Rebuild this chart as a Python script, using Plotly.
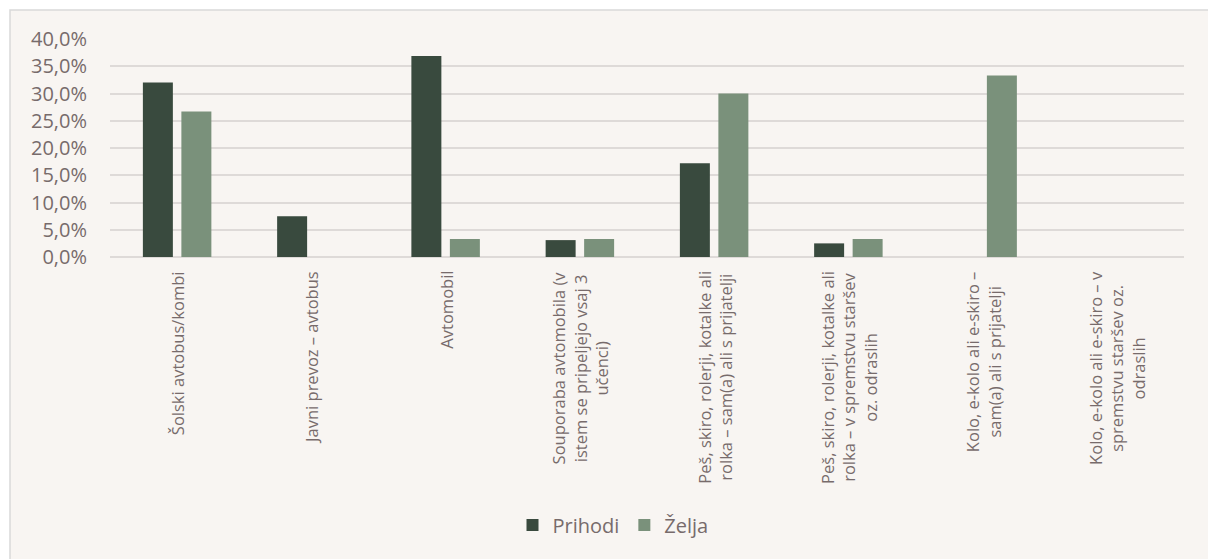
import plotly.graph_objects as go

categories = [
    "Šolski avtobus/kombi",
    "Javni prevoz – avtobus",
    "Avtomobil",
    "Souporaba avtomobila (v istem se pripeljejo vsaj 3 učenci)",
    "Peš, skiro, rolerji, kotalke ali rolka – sam(a) ali s prijatelji",
    "Peš, skiro, rolerji, kotalke ali rolka – v spremstvu staršev oz. odraslih",
    "Kolo, e-kolo ali e-skiro – sam(a) ali s prijatelji",
    "Kolo, e-kolo ali e-skiro – v spremstvu staršev oz. odraslih",
]
category_labels = [
    "Šolski avtobus/kombi",
    "Javni prevoz – avtobus",
    "Avtomobil",
    "Souporaba avtomobila (v<br>istem se pripeljejo vsaj 3<br>učenci)",
    "Peš, skiro, rolerji, kotalke ali<br>rolka – sam(a) ali s prijatelji",
    "Peš, skiro, rolerji, kotalke ali<br>rolka – v spremstvu staršev<br>oz. odraslih",
    "Kolo, e-kolo ali e-skiro –<br>sam(a) ali s prijatelji",
    "Kolo, e-kolo ali e-skiro – v<br>spremstvu staršev oz.<br>odraslih",
]
prihodi = [32.0, 7.5, 36.9, 3.1, 17.2, 2.5, 0.0, 0.0]
zelja = [26.7, 0.0, 3.3, 3.3, 30.0, 3.3, 33.3, 0.0]
y_ticks = [0, 5, 10, 15, 20, 25, 30, 35, 40]
y_tick_labels = ["0,0%", "5,0%", "10,0%", "15,0%", "20,0%", "25,0%", "30,0%", "35,0%", "40,0%"]

W, H = 1208, 559
L, R, T, B = 110, 24, 39, 302
pw = W - L - R
ph = H - T - B

def px_x(p):
    return (p - L) / pw

def px_y(p):
    return (H - B - p) / ph

TEXT = "#776B6B"
FONT = "Open Sans"

fig = go.Figure()
fig.add_trace(go.Bar(x=categories, y=prihodi, name="Prihodi", marker=dict(color="#394A3E", line=dict(width=0))))
fig.add_trace(go.Bar(x=categories, y=zelja, name="Želja", marker=dict(color="#7A917B", line=dict(width=0))))

for cat, lab in zip(categories, category_labels):
    fig.add_annotation(
        x=cat, xref="x", y=0, yref="paper", yanchor="top", xanchor="center",
        text=lab, textangle=-90, align="center", showarrow=False, yshift=-12,
        font=dict(family=FONT, size=16.5, color=TEXT),
    )

fig.add_shape(
    type="rect", xref="paper", yref="paper", layer="below",
    x0=px_x(10), x1=px_x(1240), y0=px_y(600), y1=px_y(10),
    fillcolor="#F8F5F2", line=dict(color="#D9D9D9", width=1.5),
)

fig.update_layout(
    width=W, height=H,
    margin=dict(l=L, r=R, t=T, b=B, pad=0),
    paper_bgcolor="white",
    plot_bgcolor="rgba(0,0,0,0)",
    barmode="group",
    bargap=0.4265,
    bargroupgap=0.221,
    font=dict(family=FONT, color=TEXT),
    showlegend=True,
    legend=dict(
        orientation="h", x=px_x(613), xanchor="center", y=px_y(525), yanchor="middle",
        font=dict(family=FONT, size=20, color=TEXT), bgcolor="rgba(0,0,0,0)",
        itemwidth=30, traceorder="normal",
    ),
    xaxis=dict(showticklabels=False, showgrid=False, showline=False, ticks="", zeroline=False),
    yaxis=dict(
        range=[0, 40], tickmode="array", tickvals=y_ticks, ticktext=y_tick_labels,
        showgrid=True, gridcolor="#DEDAD8", gridwidth=2,
        zeroline=True, zerolinecolor="#DEDAD8", zerolinewidth=2,
        showline=False, ticks="", ticklabelstandoff=22,
        tickfont=dict(family=FONT, size=20, color=TEXT),
    ),
)

fig.write_html("out.html")
